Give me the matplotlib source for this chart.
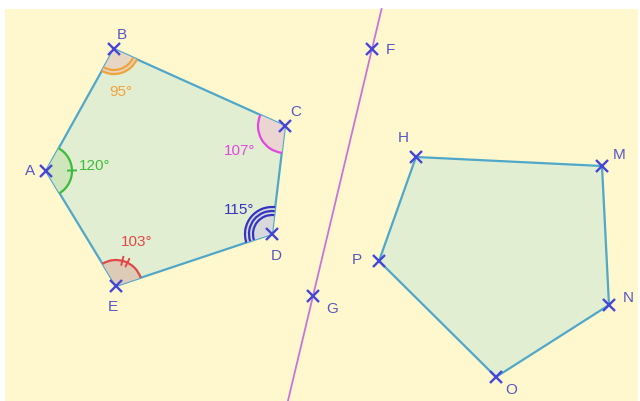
import numpy as np
import matplotlib
matplotlib.use("Agg")
import matplotlib.pyplot as plt
from matplotlib.patches import Polygon, Rectangle, Arc, Wedge

# ---- data (pixel coordinates of the construction) ----
left_names = ["A", "B", "C", "D", "E"]
left_x = [46, 114, 285, 272, 116]
left_y = [172, 50, 127, 235, 287]

right_names = ["H", "M", "N", "O", "P"]
right_x = [416, 602, 609, 496, 379]
right_y = [158, 167, 306, 378, 262]

line_names = ["F", "G"]
line_x = [372, 313]
line_y = [50, 297]

angle_vertices = ["A", "B", "C", "D", "E"]
angle_labels = ["120°", "95°", "107°", "115°", "103°"]
angle_label_x = [95, 121, 240, 239, 137]
angle_label_y = [166, 92, 151, 210, 242]

label_offsets = {
    "A": (-16, -1), "B": (8, -15), "C": (11, -15), "D": (4, 21), "E": (-3, 20),
    "F": (18, 0), "G": (19, 12), "H": (-13, -20), "M": (17, -12), "N": (19, -8),
    "O": (15, 12), "P": (-22, -2),
}

W, H = 640, 402
fig = plt.figure(figsize=(W / 100, H / 100), dpi=100, facecolor="white")
ax = fig.add_axes([0, 0, 1, 1])
ax.set_xlim(0, W)
ax.set_ylim(H, 0)
ax.set_aspect("equal")
ax.axis("off")

bg = "#FFF8CE"
ax.add_patch(Rectangle((5, 10), 633, 392, facecolor=bg, edgecolor="none", zorder=0))

poly_fill = "#E2EED2"
edge_col = "#4FA7C9"
pt_col = "#4646D6"
txt_col = "#5656C2"

pts = {}
for n, x, y in zip(left_names, left_x, left_y):
    pts[n] = (x, y)
for n, x, y in zip(right_names, right_x, right_y):
    pts[n] = (x, y)
for n, x, y in zip(line_names, line_x, line_y):
    pts[n] = (x, y)

ax.add_patch(Polygon(list(zip(left_x, left_y)), closed=True, facecolor=poly_fill,
                     edgecolor=edge_col, linewidth=1.6, zorder=2))
ax.add_patch(Polygon(list(zip(right_x, right_y)), closed=True, facecolor=poly_fill,
                     edgecolor=edge_col, linewidth=1.6, zorder=2))

# line FG extended
fx, fy = line_x[0], line_y[0]
gx, gy = line_x[1], line_y[1]
slope = (gx - fx) / (gy - fy)
y0, y1 = 10, 402
ax.plot([fx + slope * (y0 - fy), fx + slope * (y1 - fy)], [y0, y1],
        color="#C874D8", linewidth=1.3, zorder=3)

# angle marks
angle_styles = {
    "A": dict(color="#3DBB3D", fill="#CFE5BC", radii=[26], ticks=1),
    "B": dict(color="#F0A23C", fill="#E6D6C2", radii=[21, 25], ticks=0),
    "C": dict(color="#E048E0", fill="#EAD5D2", radii=[27], ticks=0),
    "D": dict(color="#3434C4", fill="#D7D9DA", radii=[19, 23, 27], ticks=0),
    "E": dict(color="#E04848", fill="#DDCBB7", radii=[26], ticks=2),
}

order = left_names
for i, v in enumerate(order):
    prev_n = order[i - 1]
    next_n = order[(i + 1) % len(order)]
    vx, vy = pts[v]
    a1 = np.degrees(np.arctan2(pts[prev_n][1] - vy, pts[prev_n][0] - vx))
    a2 = np.degrees(np.arctan2(pts[next_n][1] - vy, pts[next_n][0] - vx))
    if (a2 - a1) % 360 < 180:
        t1, t2 = a1, a2
    else:
        t1, t2 = a2, a1
    st = angle_styles[v]
    r_out = max(st["radii"])
    ax.add_patch(Wedge((vx, vy), r_out, t1, t2, facecolor=st["fill"],
                       edgecolor="none", zorder=2.5))
    for r in st["radii"]:
        ax.add_patch(Arc((vx, vy), 2 * r, 2 * r, theta1=t1, theta2=t2,
                         color=st["color"], linewidth=1.6, zorder=3))
    sweep = (t2 - t1) % 360
    mid = t1 + sweep / 2
    if st["ticks"] == 1:
        tlist = [mid]
    elif st["ticks"] == 2:
        tlist = [mid - 6, mid + 6]
    else:
        tlist = []
    for t in tlist:
        c, s = np.cos(np.radians(t)), np.sin(np.radians(t))
        ax.plot([vx + (r_out - 4) * c, vx + (r_out + 4) * c],
                [vy + (r_out - 4) * s, vy + (r_out + 4) * s],
                color=st["color"], linewidth=1.4, zorder=3)

for v, lab, lx, ly in zip(angle_vertices, angle_labels, angle_label_x, angle_label_y):
    ax.text(lx, ly, lab, color=angle_styles[v]["color"], fontsize=11,
            family=["Liberation Sans", "DejaVu Sans"], ha="center", va="center", zorder=5)

# points and their labels
for n, (x, y) in pts.items():
    ax.plot(x, y, marker="x", markersize=8, markeredgewidth=1.7, color=pt_col, zorder=4)
    dx, dy = label_offsets[n]
    ax.text(x + dx, y + dy, n, color=txt_col, fontsize=11,
            family=["Liberation Sans", "DejaVu Sans"], ha="center", va="center", zorder=5)

fig.savefig("out.png", dpi=100, facecolor="white")
